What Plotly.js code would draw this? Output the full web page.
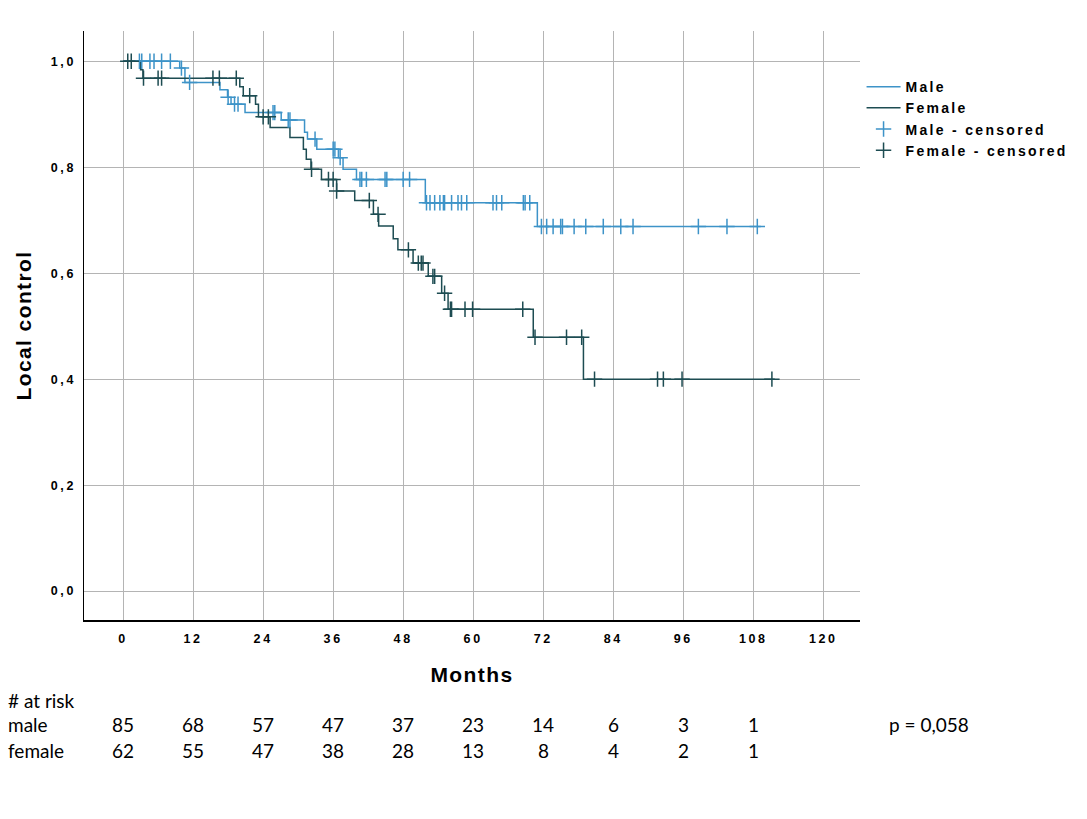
<!DOCTYPE html>
<html>
<head>
<meta charset="utf-8">
<script src="https://cdn.plot.ly/plotly-3.0.1.min.js"></script>
<style>
  html, body { margin: 0; padding: 0; background: #fff; }
  #chart { width: 1087px; height: 819px; }
  /* the original export is stretched sideways, so its bold labels look letter-spaced */
  #chart .xtick text, #chart .ytick text { letter-spacing: 2.6px; }
  #chart .legendtext { letter-spacing: 2.3px; }
  #chart .legend .scrollbox { clip-path: none !important; }
  #chart .g-xtitle text, #chart .g-ytitle text { letter-spacing: 1.4px; }
</style>
</head>
<body>
<div id="chart"></div>
<script>
// Kaplan-Meier steps (months, local control)
var maleTimes = [0, 9.7, 10.6, 16.6, 17.9, 18.5, 20.9, 27.1, 31.1, 31.6, 33.2, 36.9, 37.7, 40.0, 51.8, 71.0, 109.3];
var maleVals = [1.0, 0.987, 0.960, 0.946, 0.932, 0.919, 0.903, 0.889, 0.866, 0.853, 0.834, 0.818, 0.796, 0.777, 0.733, 0.688, 0.688];
var femaleTimes = [0, 3.0, 3.4, 20.0, 20.6, 22.7, 23.2, 25.2, 28.6, 30.9, 31.4, 32.2, 34.0, 36.6, 39.7, 42.9, 43.8, 46.3, 47.1, 49.7, 52.3, 54.6, 55.7, 70.3, 78.9, 111.7];
var femaleVals = [1.0, 0.984, 0.968, 0.952, 0.935, 0.919, 0.895, 0.875, 0.856, 0.834, 0.815, 0.796, 0.777, 0.755, 0.737, 0.711, 0.689, 0.665, 0.644, 0.619, 0.594, 0.562, 0.532, 0.479, 0.400, 0.400];

// censored observations (months)
var maleCensored = [2.8, 3.2, 4.6, 5.3, 6.6, 8.1, 10.0, 11.4, 18.0, 19.1, 19.7, 25.7, 26.0, 28.3, 28.6, 32.9, 36.0, 36.3, 37.2,
  40.6, 40.9, 41.7, 44.9, 45.2, 48.0, 49.1, 52.0, 52.6, 53.4, 54.3, 54.9, 55.1, 56.3, 57.4, 58.0, 58.9, 63.4, 64.0, 64.9,
  68.6, 68.9, 69.7, 71.7, 72.6, 73.7, 75.0, 75.3, 77.3, 79.3, 82.3, 85.3, 87.4, 98.6, 103.5, 108.7];
var femaleCensored = [0.8, 1.4, 3.5, 6.0, 6.6, 15.4, 16.5, 19.4, 21.7, 24.0, 24.9, 32.3, 35.2, 36.0, 36.6, 42.2, 43.7, 48.9,
  50.6, 51.1, 51.4, 53.1, 53.4, 55.1, 56.1, 56.3, 58.6, 59.9, 68.5, 70.6, 76.0, 78.6, 80.8, 91.6, 92.6, 95.8, 111.2];

// numbers at risk
var riskMonths = [0, 12, 24, 36, 48, 60, 72, 84, 96, 108];
var riskMale = [85, 68, 57, 47, 37, 23, 14, 6, 3, 1];
var riskFemale = [62, 55, 47, 38, 28, 13, 8, 4, 2, 1];

var xTicks = [0, 12, 24, 36, 48, 60, 72, 84, 96, 108, 120];
var yTicks = [0, 0.2, 0.4, 0.6, 0.8, 1.0];

var maleColor = '#3d93c8';
var femaleColor = '#1d4c52';

// value of the step curve at time t
function survAt(times, vals, t) {
    var v = vals[0];
    for (var i = 0; i < times.length; i++) {
        if (times[i] <= t) v = vals[i];
    }
    return v;
}

var traces = [
    {
        x: maleTimes, y: maleVals, mode: 'lines', name: 'Male',
        line: {color: maleColor, width: 1.5, shape: 'hv'}
    },
    {
        x: femaleTimes, y: femaleVals, mode: 'lines', name: 'Female',
        line: {color: femaleColor, width: 1.5, shape: 'hv'}
    },
    {
        x: maleCensored, y: maleCensored.map(t => survAt(maleTimes, maleVals, t)),
        mode: 'markers', name: 'Male - censored',
        marker: {symbol: 'cross-thin-open', size: 11, color: maleColor, line: {color: maleColor, width: 1.5}}
    },
    {
        x: femaleCensored, y: femaleCensored.map(t => survAt(femaleTimes, femaleVals, t)),
        mode: 'markers', name: 'Female - censored',
        marker: {symbol: 'cross-thin-open', size: 11, color: femaleColor, line: {color: femaleColor, width: 1.5}}
    }
];

var riskFont = {family: 'Lato, "Open Sans", sans-serif', size: 19, color: '#000'};
var annotations = [
    {text: '# at risk', xref: 'paper', yref: 'paper', x: -0.1, y: -0.136, xanchor: 'left', yanchor: 'middle', showarrow: false, font: riskFont},
    {text: 'male', xref: 'paper', yref: 'paper', x: -0.1, y: -0.178, xanchor: 'left', yanchor: 'middle', showarrow: false, font: riskFont},
    {text: 'female', xref: 'paper', yref: 'paper', x: -0.1, y: -0.222, xanchor: 'left', yanchor: 'middle', showarrow: false, font: riskFont},
    {text: 'p = 0,058', xref: 'paper', yref: 'paper', x: 1.035, y: -0.178, xanchor: 'left', yanchor: 'middle', showarrow: false, font: riskFont}
];
riskMonths.forEach(function(m, i) {
    annotations.push({text: String(riskMale[i]), xref: 'x', yref: 'paper', x: m, y: -0.178,
        xanchor: 'center', yanchor: 'middle', showarrow: false, font: riskFont});
    annotations.push({text: String(riskFemale[i]), xref: 'x', yref: 'paper', x: m, y: -0.222,
        xanchor: 'center', yanchor: 'middle', showarrow: false, font: riskFont});
});

var tickFont = {family: 'Arial, "Liberation Sans", sans-serif', size: 12.5, color: '#000', weight: 'bold'};
var titleFont = {family: 'Arial, "Liberation Sans", sans-serif', size: 21, color: '#000', weight: 'bold'};

var layout = {
    width: 1087, height: 819,
    margin: {l: 84, r: 227, t: 31, b: 199},
    paper_bgcolor: '#fff', plot_bgcolor: '#fff',
    separators: ',.',
    showlegend: true,
    legend: {
        x: 1.002, y: 0.932, xanchor: 'left', yanchor: 'top',
        font: {family: 'Arial, "Liberation Sans", sans-serif', size: 14, color: '#000', weight: 'bold'},
        itemwidth: 34, tracegroupgap: 0, bgcolor: 'rgba(0,0,0,0)'
    },
    xaxis: {
        range: [-6.7, 126.3], tickvals: xTicks, ticks: '',
        showgrid: true, gridcolor: '#b4b4b4', gridwidth: 1, zeroline: false,
        showline: true, linecolor: '#000', linewidth: 1.5,
        tickfont: tickFont, ticklabelstandoff: 6, automargin: false,
        title: {text: 'Months', font: titleFont, standoff: 23}
    },
    yaxis: {
        range: [-0.0545, 1.057], tickvals: yTicks, tickformat: '.1f', ticks: '',
        showgrid: true, gridcolor: '#b4b4b4', gridwidth: 1, zeroline: false,
        showline: true, linecolor: '#000', linewidth: 1.5,
        tickfont: tickFont, ticklabelstandoff: 4, automargin: false,
        title: {text: 'Local control', font: titleFont, standoff: 21}
    },
    annotations: annotations
};

Plotly.newPlot('chart', traces, layout, {displayModeBar: false, staticPlot: true});
</script>
</body>
</html>
